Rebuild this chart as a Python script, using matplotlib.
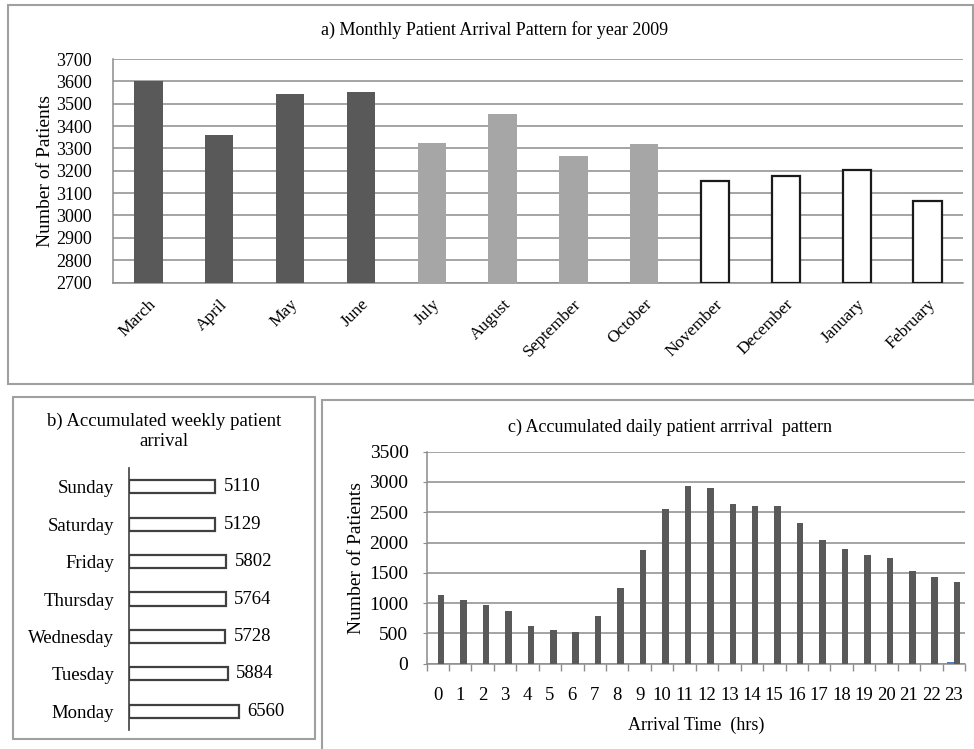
import matplotlib
matplotlib.use("Agg")
import matplotlib.pyplot as plt
from matplotlib.patches import Rectangle
import numpy as np

plt.rcParams['font.family'] = ['Liberation Serif', 'DejaVu Serif']

# ---- data ----
months = ["March", "April", "May", "June", "July", "August", "September",
          "October", "November", "December", "January", "February"]
monthly_patients = [3600, 3358, 3542, 3551, 3322, 3452, 3265, 3318,
                    3153, 3175, 3205, 3066]
month_group = [0, 0, 0, 0, 1, 1, 1, 1, 2, 2, 2, 2]

weekdays = ["Monday", "Tuesday", "Wednesday", "Thursday", "Friday",
            "Saturday", "Sunday"]
weekly_patients = [6560, 5884, 5728, 5764, 5802, 5129, 5110]

hours = list(range(24))
hourly_patients = [1133, 1058, 965, 870, 620, 550, 530, 793, 1250, 1876,
                   2560, 2935, 2900, 2632, 2598, 2598, 2330, 2042, 1892,
                   1800, 1740, 1530, 1435, 1342]
hourly_other = [0] * 23 + [20]

W, H = 974, 749
fig = plt.figure(figsize=(W / 100, H / 100), dpi=100)


def fx(px):
    return px / W


def fy(py):
    return 1 - py / H


def ax_rect(l, t, r, b):
    return [fx(l), fy(b), fx(r) - fx(l), fy(t) - fy(b)]


box_col = "#a0a0a0"
grid_col = "#8c8c8c"

# panel frames
for (l, t, r, b) in [(8, 5, 973, 384), (12.7, 396.7, 315, 739), (322, 400, 1000, 800)]:
    fig.patches.append(Rectangle((fx(l), fy(b)), fx(r) - fx(l), fy(t) - fy(b),
                                 transform=fig.transFigure, fill=False,
                                 edgecolor=box_col, linewidth=1.5, clip_on=True))

# ---- a) monthly ----
ax1 = fig.add_axes(ax_rect(113, 59, 963, 282.5))
face = ["#595959", "#a6a6a6", "white"]
edge = ["#595959", "#a6a6a6", "#1a1a1a"]
x = np.arange(len(months))
for i, v in enumerate(monthly_patients):
    g = month_group[i]
    ax1.bar(x[i], v - 2700, bottom=2700, width=0.4, color=face[g],
            edgecolor=edge[g], linewidth=1.6 if g == 2 else 0, zorder=3)
ax1.set_xlim(-0.5, 11.5)
ax1.set_ylim(2700, 3700)
ax1.set_yticks(range(2700, 3701, 100))
ax1.yaxis.grid(True, color=grid_col, linewidth=1.1)
ax1.set_axisbelow(True)
for s in ["top", "right"]:
    ax1.spines[s].set_visible(False)
for s in ["left", "bottom"]:
    ax1.spines[s].set_color(grid_col)
    ax1.spines[s].set_linewidth(1.1)
ax1.tick_params(axis="y", length=0, labelsize=13, pad=15)
ax1.set_xticks(x)
ax1.set_xticklabels(months, rotation=45, ha="right", rotation_mode="anchor",
                    fontsize=12.5)
ax1.tick_params(axis="x", length=0, pad=10)
ax1.set_ylabel("Number of Patients", fontsize=14, labelpad=2)
fig.text(fx(495), fy(30), "a) Monthly Patient Arrival Pattern for year 2009",
         ha="center", va="center", fontsize=13)

# ---- b) weekly ----
ax2 = fig.add_axes(ax_rect(129.3, 468, 263, 730))
y = np.arange(len(weekdays))
ax2.barh(y, weekly_patients, height=0.35, color="white",
         edgecolor="#404040", linewidth=1.6)
ax2.set_xlim(0, 8000)
ax2.set_ylim(-0.5, 6.5)
for s in ["top", "right", "bottom"]:
    ax2.spines[s].set_visible(False)
ax2.spines["left"].set_color("#404040")
ax2.spines["left"].set_linewidth(1.2)
ax2.set_xticks([])
ax2.set_yticks(y)
ax2.set_yticklabels(weekdays, fontsize=13.5)
ax2.tick_params(axis="y", length=0, pad=11)
for yi, v in zip(y, weekly_patients):
    ax2.text(v + 520, yi, f"{v}", va="center", ha="left", fontsize=13.5,
             clip_on=False)
fig.text(fx(164), fy(421), "b) Accumulated weekly patient", ha="center",
         va="center", fontsize=13.5)
fig.text(fx(164), fy(442), "arrival", ha="center", va="center", fontsize=13.5)

# ---- c) hourly ----
ax3 = fig.add_axes(ax_rect(426.5, 451.7, 965, 663.7))
h = np.arange(len(hours))
ax3.bar(h + 0.15, hourly_patients, width=0.29, color="#595959", zorder=3)
ax3.bar(h - 0.15, hourly_other, width=0.29, color="#4f81bd", zorder=3)
ax3.set_xlim(-0.5, 23.5)
ax3.set_ylim(0, 3500)
ax3.set_yticks(range(0, 3501, 500))
ax3.yaxis.grid(True, color=grid_col, linewidth=1.1)
ax3.set_axisbelow(True)
for s in ["top", "right"]:
    ax3.spines[s].set_visible(False)
for s in ["left", "bottom"]:
    ax3.spines[s].set_color(grid_col)
    ax3.spines[s].set_linewidth(1.1)
ax3.tick_params(axis="y", length=3, color=grid_col, labelsize=14, pad=10)
ax3.set_xticks(h)
ax3.set_xticklabels([str(v) for v in hours], fontsize=13.5)
ax3.tick_params(axis="x", which="major", length=0, pad=17)
ax3.set_xticks(np.arange(-0.5, 24, 1), minor=True)
ax3.tick_params(axis="x", which="minor", length=5, color=grid_col, width=1)
ax3.set_ylabel("Number of Patients", fontsize=14, labelpad=3)
ax3.set_xlabel("Arrival Time  (hrs)", fontsize=13, labelpad=9)
fig.text(fx(670), fy(427), "c) Accumulated daily patient arrrival  pattern",
         ha="center", va="center", fontsize=13)

fig.savefig("out.png", dpi=100)
